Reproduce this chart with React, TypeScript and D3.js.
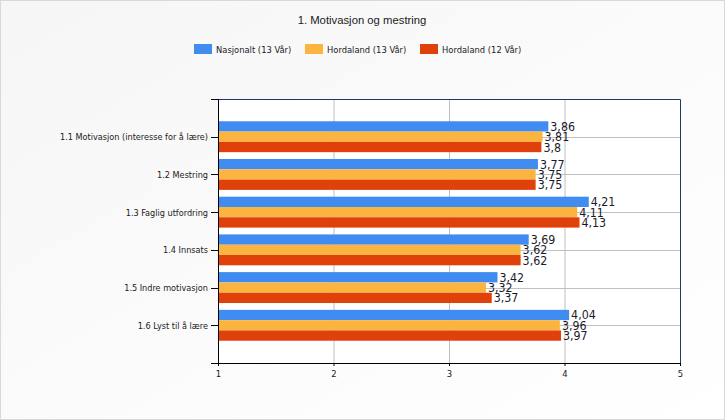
import React, { useEffect, useRef } from 'react';
import * as d3 from 'd3';

const categories = [
  '1.1 Motivasjon (interesse for å lære)',
  '1.2 Mestring',
  '1.3 Faglig utfordring',
  '1.4 Innsats',
  '1.5 Indre motivasjon',
  '1.6 Lyst til å lære',
];
const seriesNames = ['Nasjonalt (13 Vår)', 'Hordaland (13 Vår)', 'Hordaland (12 Vår)'];
const nasjonalt13 = [3.86, 3.77, 4.21, 3.69, 3.42, 4.04];
const hordaland13 = [3.81, 3.75, 4.11, 3.62, 3.32, 3.96];
const hordaland12 = [3.8, 3.75, 4.13, 3.62, 3.37, 3.97];
const xTicks = [1, 2, 3, 4, 5];
const colors = ['#418CF0', '#FCB441', '#E0400A'];

const W = 725;
const H = 420;
const labelFont = "'DejaVu Sans Condensed', 'DejaVu Sans', sans-serif";

const App = () => {
  const svgRef = useRef<SVGSVGElement>(null);

  useEffect(() => {
    const svg = d3.select(svgRef.current);
    svg.selectAll('*').remove();

    const plot = { left: 218, right: 680, top: 99, bottom: 363 };
    const series = [nasjonalt13, hordaland13, hordaland12];

    // background
    const defs = svg.append('defs');
    const grad = defs.append('linearGradient')
      .attr('id', 'bg').attr('x1', '0').attr('y1', '0').attr('x2', '1').attr('y2', '1');
    grad.append('stop').attr('offset', '0%').attr('stop-color', '#f6f6f6');
    grad.append('stop').attr('offset', '100%').attr('stop-color', '#ffffff');
    svg.append('rect')
      .attr('x', 0.5).attr('y', 0.5).attr('width', W - 1).attr('height', H - 1)
      .attr('fill', 'url(#bg)').attr('stroke', '#d9d9d9');

    // title
    svg.append('text')
      .attr('x', 362).attr('y', 24)
      .attr('text-anchor', 'middle')
      .attr('font-family', "'Liberation Sans', Arial, sans-serif")
      .attr('font-size', '11.3px')
      .attr('fill', '#1a1a1a')
      .text('1. Motivasjon og mestring');

    // legend
    const legendX = [194, 305, 420];
    seriesNames.forEach((name, i) => {
      svg.append('rect')
        .attr('x', legendX[i]).attr('y', 44).attr('width', 18).attr('height', 10)
        .attr('fill', colors[i]);
      svg.append('text')
        .attr('x', legendX[i] + 22).attr('y', 52.5)
        .attr('font-family', labelFont)
        .attr('font-size', '9.3px')
        .attr('fill', '#1a1a1a')
        .text(name);
    });

    const x = d3.scaleLinear().domain([1, 5]).range([plot.left, plot.right]);
    const y = d3.scalePoint().domain(categories).range([plot.top, plot.bottom]).padding(1);

    svg.append('rect')
      .attr('x', plot.left).attr('y', plot.top)
      .attr('width', plot.right - plot.left).attr('height', plot.bottom - plot.top)
      .attr('fill', '#ffffff');

    // grid
    svg.append('g').selectAll('line')
      .data(xTicks.slice(1, -1))
      .enter().append('line')
      .attr('x1', d => x(d) + 0.5).attr('x2', d => x(d) + 0.5)
      .attr('y1', plot.top).attr('y2', plot.bottom)
      .attr('stroke', '#bfbfbf');
    svg.append('g').selectAll('line')
      .data(categories)
      .enter().append('line')
      .attr('x1', plot.left).attr('x2', plot.right)
      .attr('y1', d => Math.round(y(d)!) + 0.5).attr('y2', d => Math.round(y(d)!) + 0.5)
      .attr('stroke', '#bfbfbf');

    // bars
    const barH = 10.3;
    series.forEach((vals, si) => {
      const g = svg.append('g');
      g.selectAll('rect')
        .data(vals)
        .enter().append('rect')
        .attr('x', x(1))
        .attr('y', (d, i) => y(categories[i])! + (si - 1.5) * barH)
        .attr('width', d => x(d) - x(1))
        .attr('height', barH)
        .attr('fill', colors[si]);
      g.selectAll('text')
        .data(vals)
        .enter().append('text')
        .attr('x', d => x(d) + 2)
        .attr('y', (d, i) => y(categories[i])! + (si - 1) * barH + 4.5)
        .attr('font-family', labelFont)
        .attr('font-size', '12.3px')
        .attr('fill', '#1a1a2a')
        .text(d => String(d).replace('.', ','));
    });

    // frame
    svg.append('path')
      .attr('d', `M${plot.left},${plot.top + 0.5}H${plot.right + 0.5}V${plot.bottom}`)
      .attr('fill', 'none').attr('stroke', '#1A3B69');

    // left axis
    const left = svg.append('g').attr('stroke', '#000');
    left.append('line')
      .attr('x1', plot.left + 0.5).attr('x2', plot.left + 0.5)
      .attr('y1', plot.top).attr('y2', plot.bottom + 3);
    [plot.top, ...categories.map(c => y(c)!), plot.bottom].forEach(v => {
      left.append('line')
        .attr('x1', plot.left - 7).attr('x2', plot.left)
        .attr('y1', Math.round(v) + 0.5).attr('y2', Math.round(v) + 0.5);
    });
    svg.append('g').selectAll('text')
      .data(categories)
      .enter().append('text')
      .attr('x', plot.left - 10)
      .attr('y', d => y(d)! + 3.5)
      .attr('text-anchor', 'end')
      .attr('font-family', labelFont)
      .attr('font-size', '9.05px')
      .attr('fill', '#1a1a1a')
      .text(d => d);

    // bottom axis
    svg.append('line')
      .attr('x1', plot.left).attr('x2', plot.right + 1)
      .attr('y1', plot.bottom + 0.5).attr('y2', plot.bottom + 0.5)
      .attr('stroke', '#000');
    const bottom = svg.append('g');
    bottom.selectAll('line')
      .data(xTicks)
      .enter().append('line')
      .attr('x1', d => x(d) + 0.5).attr('x2', d => x(d) + 0.5)
      .attr('y1', plot.bottom).attr('y2', plot.bottom + 3)
      .attr('stroke', '#000');
    bottom.selectAll('text')
      .data(xTicks)
      .enter().append('text')
      .attr('x', d => x(d) + 0.5)
      .attr('y', plot.bottom + 14)
      .attr('text-anchor', 'middle')
      .attr('font-family', labelFont)
      .attr('font-size', '9.4px')
      .attr('fill', '#1a1a1a')
      .text(d => d);
  }, []);

  return (
    <svg
      ref={svgRef}
      width={W}
      height={H}
      style={{ position: 'absolute', left: 0, top: 0, display: 'block' }}
    />
  );
};

export default App;
